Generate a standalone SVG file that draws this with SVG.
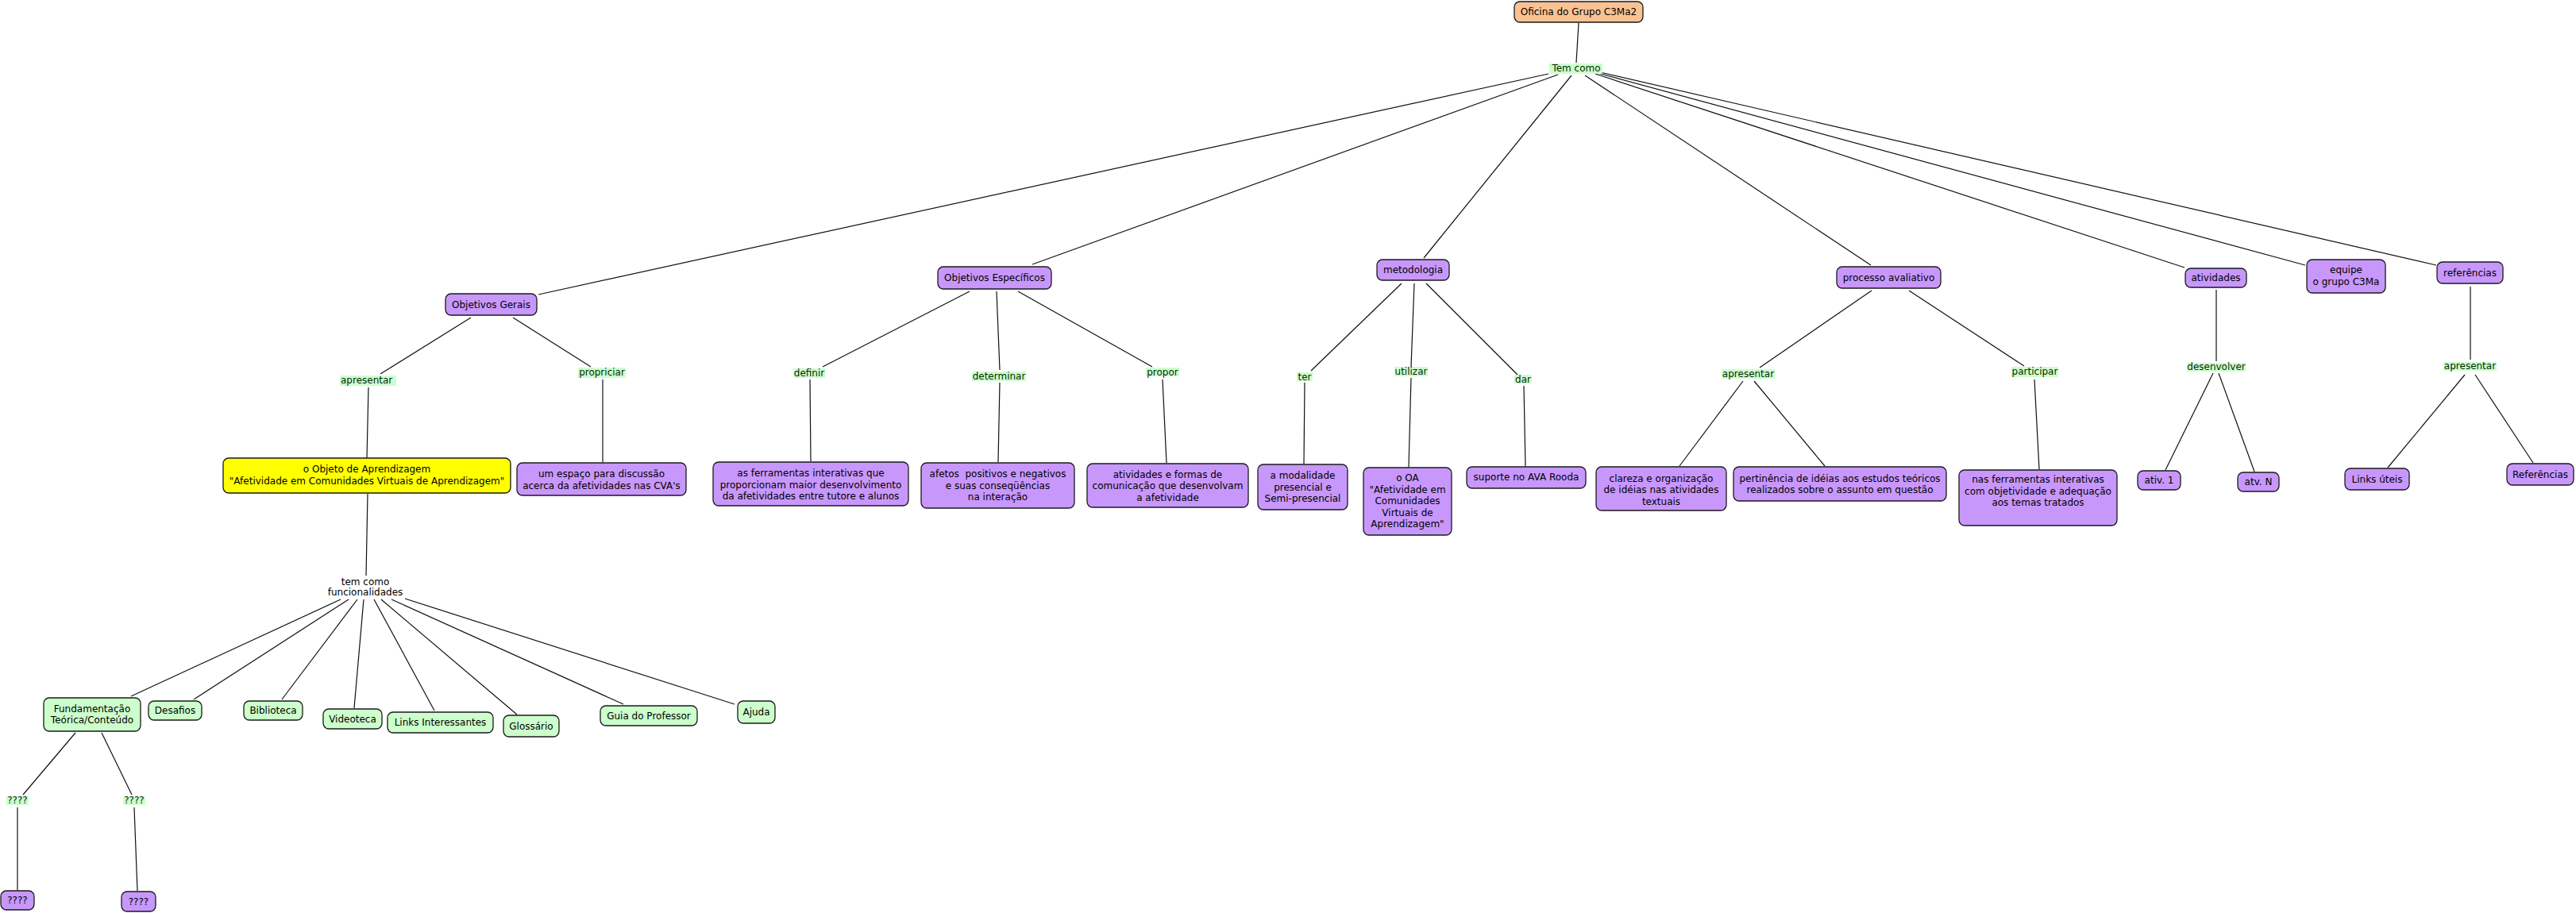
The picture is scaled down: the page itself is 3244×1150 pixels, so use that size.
<svg xmlns="http://www.w3.org/2000/svg" width="3244" height="1150" viewBox="0 0 3244 1150">
<style>
text{font-family:"DejaVu Sans","Verdana",sans-serif;font-size:12px;fill:#000;text-anchor:middle}
.c{fill:#C897FC;stroke:#1a1a1a;stroke-width:1.3}
.r{fill:#FAC292;stroke:#1a1a1a;stroke-width:1.3}
.y{fill:#FFFF00;stroke:#1a1a1a;stroke-width:1.3}
.g{fill:#CCFFCC;stroke:#1a1a1a;stroke-width:1.3}
.lb{fill:#CCFFCC;stroke:none}
.lt{fill:#0b1f0b}
#edges line{stroke:#111;stroke-width:1.2}
</style>
<rect width="3244" height="1150" fill="#fff"/>
<g id="edges">
<line x1="1988" y1="29" x2="1985" y2="79"/>
<line x1="1950" y1="93" x2="678" y2="371"/>
<line x1="1962" y1="94" x2="1300" y2="333"/>
<line x1="1979" y1="95" x2="1793" y2="325"/>
<line x1="1996" y1="95" x2="2356" y2="334"/>
<line x1="2009" y1="93" x2="2751" y2="337"/>
<line x1="2012" y1="92" x2="2903" y2="334"/>
<line x1="2015" y1="91" x2="3068" y2="334"/>
<line x1="593" y1="400" x2="479" y2="471"/>
<line x1="646" y1="400" x2="744" y2="462"/>
<line x1="464" y1="488" x2="462" y2="577"/>
<line x1="759" y1="478" x2="759" y2="582"/>
<line x1="463" y1="622" x2="461" y2="725"/>
<line x1="429" y1="755" x2="165" y2="877"/>
<line x1="439" y1="755" x2="244" y2="881"/>
<line x1="450" y1="755" x2="355" y2="881"/>
<line x1="458" y1="755" x2="446" y2="892"/>
<line x1="471" y1="755" x2="547" y2="895"/>
<line x1="480" y1="755" x2="651" y2="900"/>
<line x1="493" y1="755" x2="785" y2="887"/>
<line x1="510" y1="754" x2="925" y2="887"/>
<line x1="95" y1="923" x2="29" y2="1001"/>
<line x1="128" y1="923" x2="166" y2="1001"/>
<line x1="22" y1="1017" x2="22" y2="1121"/>
<line x1="169" y1="1017" x2="173" y2="1122"/>
<line x1="1221" y1="367" x2="1036" y2="462"/>
<line x1="1255" y1="367" x2="1259" y2="466"/>
<line x1="1282" y1="367" x2="1451" y2="462"/>
<line x1="1020" y1="478" x2="1021" y2="581"/>
<line x1="1259" y1="482" x2="1257" y2="582"/>
<line x1="1464" y1="478" x2="1469" y2="583"/>
<line x1="1765" y1="357" x2="1651" y2="467"/>
<line x1="1781" y1="357" x2="1777" y2="462"/>
<line x1="1796" y1="357" x2="1911" y2="472"/>
<line x1="1643" y1="482" x2="1642" y2="584"/>
<line x1="1777" y1="476" x2="1774" y2="588"/>
<line x1="1919" y1="486" x2="1921" y2="587"/>
<line x1="2357" y1="366" x2="2216" y2="463"/>
<line x1="2404" y1="366" x2="2549" y2="461"/>
<line x1="2195" y1="480" x2="2115" y2="587"/>
<line x1="2209" y1="480" x2="2298" y2="587"/>
<line x1="2562" y1="478" x2="2568" y2="591"/>
<line x1="2791" y1="365" x2="2791" y2="455"/>
<line x1="2787" y1="470" x2="2727" y2="592"/>
<line x1="2794" y1="470" x2="2839" y2="594"/>
<line x1="3111" y1="361" x2="3111" y2="453"/>
<line x1="3104" y1="472" x2="3007" y2="589"/>
<line x1="3117" y1="472" x2="3190" y2="583"/>
</g>
<g id="n-root"><rect class="r" x="1907" y="2" width="162" height="26" rx="7"/><text x="1988" y="19">Oficina do Grupo C3Ma2</text></g>
<g id="l-temcomo"><rect class="lb" x="1951" y="80" width="67" height="13"/><text class="lt" x="1985" y="90">Tem como</text></g>
<g id="n-og"><rect class="c" x="561" y="370" width="115" height="27" rx="7"/><text x="618.5" y="388">Objetivos Gerais</text></g>
<g id="n-oe"><rect class="c" x="1181" y="336" width="143" height="28" rx="7"/><text x="1252.5" y="354">Objetivos Específicos</text></g>
<g id="n-met"><rect class="c" x="1734" y="327" width="91" height="26" rx="7"/><text x="1779.5" y="344">metodologia</text></g>
<g id="n-pa"><rect class="c" x="2313" y="336" width="131" height="27" rx="7"/><text x="2378.5" y="353.5">processo avaliativo</text></g>
<g id="n-ativ"><rect class="c" x="2752" y="338" width="77" height="24" rx="7"/><text x="2790.5" y="354">atividades</text></g>
<g id="n-equipe"><rect class="c" x="2905" y="327" width="99" height="42" rx="7"/><text x="2954.5" y="344">equipe</text><text x="2954.5" y="358.5">o grupo C3Ma</text></g>
<g id="n-ref"><rect class="c" x="3069" y="330" width="83" height="27" rx="7"/><text x="3110.5" y="348">referências</text></g>
<g id="l-apres1"><rect class="lb" x="428" y="473" width="71" height="13"/><text class="lt" x="429" y="483" style="text-anchor:start">apresentar</text></g>
<g id="l-propr"><rect class="lb" x="728" y="463" width="60" height="13"/><text class="lt" x="758" y="473">propriciar</text></g>
<g id="n-oa-yellow"><rect class="y" x="281" y="577" width="362" height="44" rx="7"/><text x="462" y="595">o Objeto de Aprendizagem</text><text x="462" y="610">"Afetividade em Comunidades Virtuais de Aprendizagem"</text></g>
<g id="n-espaco"><rect class="c" x="651" y="583" width="213" height="41" rx="7"/><text x="757.5" y="601">um espaço para discussão</text><text x="757.5" y="616">acerca da afetividades nas CVA's</text></g>
<g id="l-func"><text x="460" y="737">tem como</text><text x="460" y="750">funcionalidades</text></g>
<g id="n-fund"><rect class="g" x="55" y="879" width="122" height="42" rx="7"/><text x="116" y="897">Fundamentação</text><text x="116" y="911">Teórica/Conteúdo</text></g>
<g id="n-desafios"><rect class="g" x="187" y="883" width="67" height="24" rx="7"/><text x="220.5" y="899">Desafios</text></g>
<g id="n-biblio"><rect class="g" x="307" y="883" width="74" height="24" rx="7"/><text x="344" y="899">Biblioteca</text></g>
<g id="n-video"><rect class="g" x="407" y="893" width="74" height="25" rx="7"/><text x="444" y="909.5">Videoteca</text></g>
<g id="n-links"><rect class="g" x="488" y="897" width="133" height="26" rx="7"/><text x="554.5" y="914">Links Interessantes</text></g>
<g id="n-gloss"><rect class="g" x="634" y="901" width="70" height="27" rx="7"/><text x="669" y="918.5">Glossário</text></g>
<g id="n-guia"><rect class="g" x="756" y="889" width="122" height="25" rx="7"/><text x="817" y="905.5">Guia do Professor</text></g>
<g id="n-ajuda"><rect class="g" x="929" y="883" width="47" height="28" rx="7"/><text x="952.5" y="901">Ajuda</text></g>
<g id="l-q1"><rect class="lb" x="8" y="1003" width="28" height="11"/><text class="lt" x="22" y="1012">????</text></g>
<g id="l-q2"><rect class="lb" x="155" y="1003" width="28" height="11"/><text class="lt" x="169" y="1012">????</text></g>
<g id="n-q1"><rect class="c" x="1" y="1122" width="42" height="24" rx="7"/><text x="22" y="1138">????</text></g>
<g id="n-q2"><rect class="c" x="153" y="1123" width="43" height="25" rx="7"/><text x="174.5" y="1140">????</text></g>
<g id="l-definir"><rect class="lb" x="999" y="464" width="40" height="12"/><text class="lt" x="1019" y="474">definir</text></g>
<g id="l-determinar"><rect class="lb" x="1224" y="468" width="68" height="12"/><text class="lt" x="1258" y="478">determinar</text></g>
<g id="l-propor"><rect class="lb" x="1443" y="463" width="42" height="11"/><text class="lt" x="1464" y="473">propor</text></g>
<g id="n-ferr"><rect class="c" x="898" y="582" width="246" height="55" rx="7"/><text x="1021" y="600">as ferramentas interativas que</text><text x="1021" y="615">proporcionam maior desenvolvimento</text><text x="1021" y="629">da afetividades entre tutore e alunos</text></g>
<g id="n-afetos"><rect class="c" x="1160" y="583" width="193" height="57" rx="7"/><text x="1256.5" y="601">afetos&#160; positivos e negativos</text><text x="1256.5" y="616">e suas conseqüências</text><text x="1256.5" y="630">na interação</text></g>
<g id="n-formas"><rect class="c" x="1369" y="584" width="203" height="55" rx="7"/><text x="1470.5" y="602">atividades e formas de</text><text x="1470.5" y="616">comunicação que desenvolvam</text><text x="1470.5" y="631">a afetividade</text></g>
<g id="l-ter"><rect class="lb" x="1633" y="469" width="20" height="11"/><text class="lt" x="1643" y="479">ter</text></g>
<g id="l-utilizar"><rect class="lb" x="1756" y="462" width="42" height="12"/><text class="lt" x="1777" y="472">utilizar</text></g>
<g id="l-dar"><rect class="lb" x="1907" y="472" width="22" height="11"/><text class="lt" x="1918" y="482">dar</text></g>
<g id="n-modal"><rect class="c" x="1584" y="585" width="113" height="57" rx="7"/><text x="1640.5" y="603">a modalidade</text><text x="1640.5" y="617.5">presencial e</text><text x="1640.5" y="632">Semi-presencial</text></g>
<g id="n-oa"><rect class="c" x="1717" y="589" width="111" height="85" rx="7"/><text x="1772.5" y="606">o OA</text><text x="1772.5" y="621">"Afetividade em</text><text x="1772.5" y="635">Comunidades</text><text x="1772.5" y="649.5">Virtuais de</text><text x="1772.5" y="664">Aprendizagem"</text></g>
<g id="n-suporte"><rect class="c" x="1847" y="588" width="150" height="27" rx="7"/><text x="1922" y="605">suporte no AVA Rooda</text></g>
<g id="l-apres2"><rect class="lb" x="2168" y="465" width="67" height="12"/><text class="lt" x="2201.5" y="475">apresentar</text></g>
<g id="l-partic"><rect class="lb" x="2533" y="462" width="59" height="13"/><text class="lt" x="2562.5" y="472">participar</text></g>
<g id="n-clareza"><rect class="c" x="2010" y="588" width="164" height="55" rx="7"/><text x="2092" y="607">clareza e organização</text><text x="2092" y="621">de idéias nas atividades</text><text x="2092" y="636">textuais</text></g>
<g id="n-pert"><rect class="c" x="2183" y="588" width="268" height="43" rx="7"/><text x="2317" y="607">pertinência de idéias aos estudos teóricos</text><text x="2317" y="621">realizados sobre o assunto em questão</text></g>
<g id="n-nasferr"><rect class="c" x="2467" y="592" width="199" height="70" rx="7"/><text x="2566.5" y="608">nas ferramentas interativas</text><text x="2566.5" y="623">com objetividade e adequação</text><text x="2566.5" y="637">aos temas tratados</text></g>
<g id="l-desenv"><rect class="lb" x="2754" y="457" width="74" height="11"/><text class="lt" x="2791" y="466">desenvolver</text></g>
<g id="n-ativ1"><rect class="c" x="2692" y="593" width="54" height="24" rx="7"/><text x="2719" y="609">ativ. 1</text></g>
<g id="n-atvn"><rect class="c" x="2818" y="595" width="52" height="24" rx="7"/><text x="2844" y="611">atv. N</text></g>
<g id="l-apres3"><rect class="lb" x="3077" y="456" width="67" height="11"/><text class="lt" x="3110.5" y="465">apresentar</text></g>
<g id="n-linksuteis"><rect class="c" x="2953" y="590" width="81" height="27" rx="7"/><text x="2993.5" y="608">Links úteis</text></g>
<g id="n-referencias"><rect class="c" x="3157" y="584" width="84" height="27" rx="7"/><text x="3199" y="602">Referências</text></g>
</svg>
